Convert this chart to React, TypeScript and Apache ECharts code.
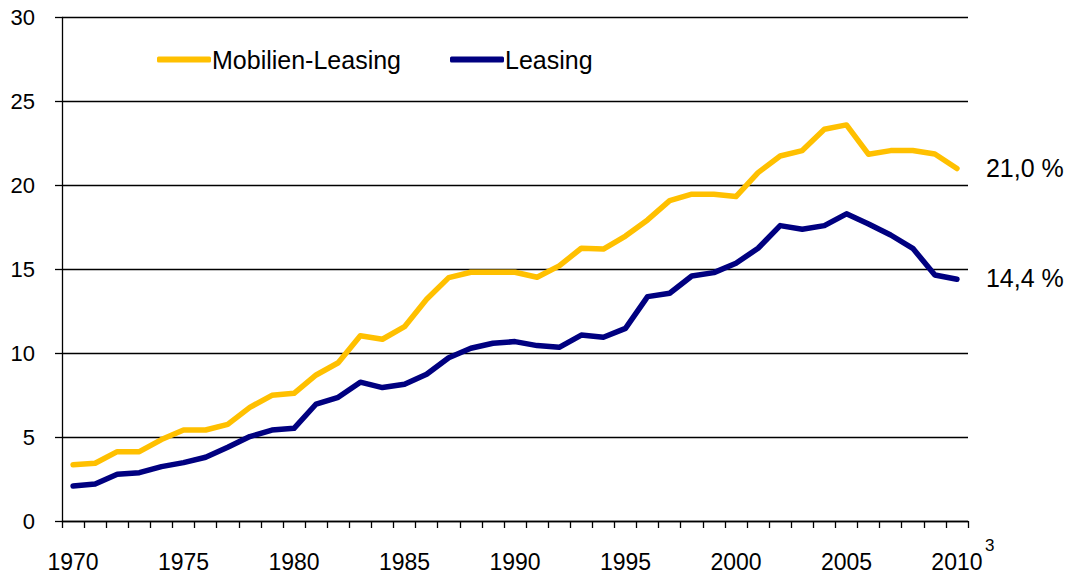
import React, { useEffect, useRef } from "react";
import * as echarts from "echarts";

const years = [
  "1970", "1971", "1972", "1973", "1974", "1975", "1976", "1977", "1978", "1979",
  "1980", "1981", "1982", "1983", "1984", "1985", "1986", "1987", "1988", "1989",
  "1990", "1991", "1992", "1993", "1994", "1995", "1996", "1997", "1998", "1999",
  "2000", "2001", "2002", "2003", "2004", "2005", "2006", "2007", "2008", "2009",
  "2010",
];

const mobilienLeasing = [
  3.35, 3.44, 4.13, 4.13, 4.85, 5.42, 5.42, 5.76, 6.77, 7.49,
  7.61, 8.7, 9.43, 11.04, 10.83, 11.58, 13.21, 14.5, 14.82, 14.82,
  14.82, 14.52, 15.2, 16.25, 16.2, 16.98, 17.94, 19.09, 19.47, 19.47,
  19.33, 20.76, 21.75, 22.07, 23.34, 23.6, 21.85, 22.07, 22.07, 21.87,
  21.0,
];

const leasing = [
  2.09, 2.2, 2.78, 2.88, 3.24, 3.48, 3.8, 4.39, 5.03, 5.42,
  5.52, 6.97, 7.37, 8.27, 7.95, 8.15, 8.74, 9.73, 10.29, 10.59,
  10.69, 10.45, 10.35, 11.08, 10.95, 11.48, 13.37, 13.57, 14.6, 14.8,
  15.36, 16.25, 17.6, 17.38, 17.6, 18.3, 17.7, 17.04, 16.25, 14.66,
  14.4,
];

const seriesNames = ["Mobilien-Leasing", "Leasing"];
const footnote = "3";

const FONT = "'Liberation Sans', Arial, Helvetica, sans-serif";

const fmtEnd = (v: number) => v.toFixed(1).replace(".", ",") + " %";

export default function App() {
  const ref = useRef<HTMLDivElement>(null);

  useEffect(() => {
    if (!ref.current) return;
    const chart = echarts.init(ref.current, undefined, { renderer: "svg" });
    const endLabel = () => ({
      show: true,
      distance: 29,
      offset: [0, -1],
      color: "#000",
      fontSize: 25,
      fontFamily: FONT,
      formatter: (p: any) => fmtEnd(p.value as number),
    });
    chart.setOption({
      animation: false,
      backgroundColor: "#fff",
      textStyle: { fontFamily: FONT },
      grid: { left: 62, right: 100, top: 17.5, bottom: 54, containLabel: false },
      legend: {
        left: 152,
        top: 42,
        itemWidth: 54,
        itemHeight: 6,
        itemGap: 49,
        icon: "roundRect",
        textStyle: { fontSize: 25, color: "#000", fontFamily: FONT, padding: [0, 0, 0, -4] },
        data: seriesNames,
      },
      xAxis: {
        type: "category",
        data: years,
        boundaryGap: true,
        axisLine: { show: true, lineStyle: { color: "#000", width: 1.3 } },
        axisTick: { show: true, interval: 0, length: 7, lineStyle: { color: "#000", width: 1.3 } },
        axisLabel: {
          interval: 4,
          margin: 29,
          fontSize: 23,
          color: "#000",
          fontFamily: FONT,
        },
        splitLine: { show: false },
      },
      yAxis: {
        type: "value",
        min: 0,
        max: 30,
        interval: 5,
        axisLine: { show: true, lineStyle: { color: "#000", width: 1.3 } },
        axisTick: { show: true, length: 7, lineStyle: { color: "#000", width: 1.3 } },
        axisLabel: { margin: 27, fontSize: 22, color: "#000", fontFamily: FONT },
        splitLine: { show: true, lineStyle: { color: "#000", width: 1.3 } },
      },
      series: [
        {
          name: seriesNames[0],
          type: "line",
          data: mobilienLeasing,
          symbol: "none",
          color: "#FFC000",
          lineStyle: { color: "#FFC000", width: 5.5, cap: "round", join: "round" },
          endLabel: endLabel(),
          z: 3,
        },
        {
          name: seriesNames[1],
          type: "line",
          data: leasing,
          symbol: "none",
          color: "#000080",
          lineStyle: { color: "#000080", width: 5.5, cap: "round", join: "round" },
          endLabel: endLabel(),
          z: 4,
        },
      ],
      graphic: [
        {
          type: "text",
          left: 985,
          top: 537,
          style: { text: footnote, fontSize: 17, fill: "#000", fontFamily: FONT },
        },
      ],
    });
    return () => chart.dispose();
  }, []);

  return (
    <div
      ref={ref}
      style={{ position: "absolute", left: 0, top: 0, width: 1068, height: 575 }}
    />
  );
}
